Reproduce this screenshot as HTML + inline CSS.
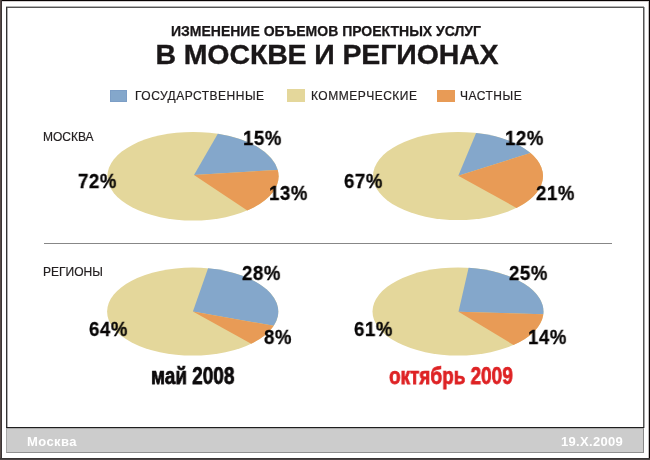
<!DOCTYPE html>
<html><head><meta charset="utf-8">
<style>
*{margin:0;padding:0;box-sizing:border-box}
html,body{width:650px;height:460px;overflow:hidden;background:#fff}
body{position:relative;font-family:"Liberation Sans",Arial,sans-serif;color:#1a1718}
.a{position:absolute}
.t1,.t2,.lg,.sec,.pct,.date,.ft{will-change:transform}
.t1{-webkit-text-stroke:0.25px #1a1718}
.t2{-webkit-text-stroke:0.35px #1a1718}
.lg,.sec{-webkit-text-stroke:0.2px #231f20}
.t1{position:absolute;left:0;width:650px;text-align:center;font-weight:bold;font-size:14px;line-height:14px;white-space:nowrap}
.t2{position:absolute;left:0;width:650px;text-align:center;font-weight:bold;font-size:28.5px;line-height:28px;letter-spacing:-0.12px;white-space:nowrap}
.lg{position:absolute;font-size:12px;line-height:12px;letter-spacing:0.5px;white-space:nowrap;color:#231f20}
.sw{position:absolute;width:17px;height:11.5px}
.sec{position:absolute;font-size:12px;line-height:12px;white-space:nowrap;color:#231f20}
.pct{position:absolute;font-weight:bold;font-size:20px;line-height:20px;letter-spacing:0.6px;white-space:nowrap;color:#080606;-webkit-text-stroke:0.3px #080606;transform:scaleX(0.93);transform-origin:0 0}
.date{position:absolute;font-weight:bold;font-size:23px;line-height:23px;white-space:nowrap;transform-origin:0 0;transform:scaleX(0.824);-webkit-text-stroke:0.75px currentColor}
.ft{position:absolute;font-weight:bold;font-size:13px;line-height:13px;letter-spacing:0.42px;color:#fff;white-space:nowrap}
</style></head><body>
<!-- outer frame -->
<div class="a" style="left:0;top:0;width:650px;height:1px;background:#080303"></div>
<div class="a" style="left:0;top:0;width:1px;height:460px;background:#574b48"></div>
<div class="a" style="left:1px;top:0;width:1px;height:460px;background:#3a3434"></div>
<div class="a" style="left:649px;top:0;width:1px;height:460px;background:#0a0505"></div>
<div class="a" style="left:0;top:458px;width:650px;height:1px;background:#383434"></div>
<div class="a" style="left:0;top:459px;width:650px;height:1px;background:#4a4444"></div>
<div class="a" style="left:2px;top:1px;width:647px;height:1px;background:#d4d0d0"></div>
<div class="a" style="left:648px;top:1px;width:1px;height:457px;background:#c4c0c0"></div>
<!-- inner frame -->
<div class="a" style="left:6px;top:6px;width:638px;height:1px;background:#b4b4b4"></div>
<div class="a" style="left:7px;top:8px;width:1px;height:419px;background:#b0b0b0"></div>
<div class="a" style="left:644px;top:7px;width:1px;height:421px;background:#a8a8a8"></div>
<div class="a" style="left:6px;top:7px;width:638px;height:1px;background:#555"></div>
<div class="a" style="left:6px;top:7px;width:1px;height:421px;background:#333"></div>
<div class="a" style="left:643px;top:7px;width:1px;height:421px;background:#555"></div>
<div class="a" style="left:6px;top:427px;width:638px;height:1px;background:#1e1e1e"></div>
<div class="a" style="left:6px;top:428px;width:638px;height:25px;background:#ccc;border-left:1px solid #a8a8a8;border-right:1px solid #888;border-bottom:1px solid #909090;border-top:1px solid #aaa"></div>
<!-- titles -->
<div class="t1" style="top:24px;left:1px">ИЗМЕНЕНИЕ ОБЪЕМОВ ПРОЕКТНЫХ УСЛУГ</div>
<div class="t2" style="top:39.5px;left:1.5px">В МОСКВЕ И РЕГИОНАХ</div>
<!-- legend -->
<div class="sw" style="left:110px;top:90px;width:17px;height:11.7px;background:#84a7cb;border:1px solid #7c9ec6"></div>
<div class="lg" style="left:135px;top:90px">ГОСУДАРСТВЕННЫЕ</div>
<div class="sw" style="left:287px;top:89.2px;width:18px;height:12.4px;background:#e4d79b"></div>
<div class="lg" style="left:311px;top:90px">КОММЕРЧЕСКИЕ</div>
<div class="sw" style="left:437.3px;top:89.5px;width:17.7px;height:12.2px;background:#e89b56"></div>
<div class="lg" style="left:460px;top:90px">ЧАСТНЫЕ</div>
<div class="sec" style="left:43px;top:131px">МОСКВА</div>
<div class="sec" style="left:43px;top:266px">РЕГИОНЫ</div>
<div class="a" style="left:43.5px;top:243px;width:568.5px;height:1px;background:#878787"></div>
<svg class="a" style="left:0;top:0" width="650" height="460" viewBox="0 0 650 460">
<ellipse cx="193.00" cy="176.20" rx="85.60" ry="44.30" fill="#e4d79b"/>
<path d="M194.00,175.00 L217.81,133.80 A85.60,44.30 0 0 1 277.74,169.92 Z" fill="#84a7cb"/>
<path d="M194.00,175.00 L277.74,169.92 A85.60,44.30 0 0 1 247.31,210.44 Z" fill="#e89b56"/>
<ellipse cx="458.00" cy="176.00" rx="85.00" ry="44.00" fill="#e4d79b"/>
<path d="M458.30,175.70 L476.10,133.01 A85.00,44.00 0 0 1 530.54,153.06 Z" fill="#84a7cb"/>
<path d="M458.30,175.70 L530.54,153.06 A85.00,44.00 0 0 1 516.49,207.93 Z" fill="#e89b56"/>
<ellipse cx="192.70" cy="311.60" rx="85.60" ry="44.00" fill="#e4d79b"/>
<path d="M192.90,311.40 L208.07,268.31 A85.60,44.00 0 0 1 273.72,325.80 Z" fill="#84a7cb"/>
<path d="M192.90,311.40 L273.72,325.80 A85.60,44.00 0 0 1 251.18,343.73 Z" fill="#e89b56"/>
<ellipse cx="458.00" cy="311.50" rx="85.50" ry="44.00" fill="#e4d79b"/>
<path d="M458.50,311.80 L468.61,267.84 A85.50,44.00 0 0 1 543.33,314.30 Z" fill="#84a7cb"/>
<path d="M458.50,311.80 L543.33,314.30 A85.50,44.00 0 0 1 513.51,344.97 Z" fill="#e89b56"/>
</svg>
<div class="pct" style="left:243.1px;top:128.1px">15%</div>
<div class="pct" style="left:77.8px;top:170.7px">72%</div>
<div class="pct" style="left:268.5px;top:183.1px">13%</div>
<div class="pct" style="left:504.9px;top:128.1px">12%</div>
<div class="pct" style="left:343.5px;top:170.5px">67%</div>
<div class="pct" style="left:535.6px;top:182.8px">21%</div>
<div class="pct" style="left:242.2px;top:263.1px">28%</div>
<div class="pct" style="left:88.7px;top:318.5px">64%</div>
<div class="pct" style="left:263.7px;top:326.7px">8%</div>
<div class="pct" style="left:508.5px;top:263.1px">25%</div>
<div class="pct" style="left:353.9px;top:318.5px">61%</div>
<div class="pct" style="left:527.5px;top:326.7px">14%</div>
<div class="date" style="left:150.5px;top:365.2px;color:#0d0b0c">май 2008</div>
<div class="date" style="left:389px;top:365.2px;color:#de2224">октябрь 2009</div>
<div class="ft" style="left:27.4px;top:434.8px">Москва</div>
<div class="ft" style="left:561.3px;top:434.8px;letter-spacing:0.32px">19.X.2009</div>
</body></html>
